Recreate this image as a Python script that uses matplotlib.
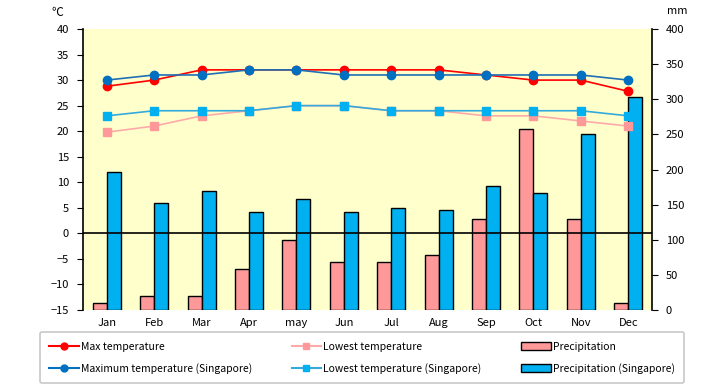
import matplotlib
matplotlib.use("Agg")
import matplotlib.pyplot as plt
import numpy as np
from matplotlib.lines import Line2D
from matplotlib.patches import Patch

plt.rcParams['font.family'] = ['Noto Sans CJK JP', 'DejaVu Sans']

months = ["Jan", "Feb", "Mar", "Apr", "may", "Jun", "Jul", "Aug", "Sep", "Oct", "Nov", "Dec"]
max_temp = [28.8, 30, 32, 32, 32, 32, 32, 32, 31, 30, 30, 27.8]
low_temp = [19.8, 21, 23, 24, 25, 25, 24, 24, 23, 23, 22, 21]
max_temp_sg = [30, 31, 31, 32, 32, 31, 31, 31, 31, 31, 31, 30]
low_temp_sg = [23, 24, 24, 24, 25, 25, 24, 24, 24, 24, 24, 23]
precip = [10, 20, 20, 59, 99, 69, 69, 79, 129, 258, 129, 10]
precip_sg = [197, 153, 170, 140, 158, 139, 145, 142, 176, 166, 251, 303]

fig = plt.figure(figsize=(7.2, 3.85), dpi=100)
ax = fig.add_axes([83/720, 1-310/385, (652-83)/720, (310-29)/385])
ax.set_facecolor('#FFFFCC')
x = np.arange(len(months))
w = 0.295
ax.bar(x - w/2, precip, w, color='#FF9999', edgecolor='black', linewidth=1, zorder=2)
ax.bar(x + w/2, precip_sg, w, color='#00B0F0', edgecolor='black', linewidth=1, zorder=2)
ax.set_ylim(0, 400)
ax.set_xlim(-0.5, 11.5)
ax.set_xticks(x)
ax.set_xticklabels(months)
ax.tick_params(axis='x', length=0, pad=6, labelsize=8)

ax2 = ax.twinx()
# precipitation axis on the right (host), temperature axis on the left (twin)
ax.yaxis.tick_right()
ax.yaxis.set_label_position('right')
ax2.yaxis.tick_left()
ax2.yaxis.set_label_position('left')

ax.set_yticks(range(0, 401, 50))
ax.tick_params(axis='y', direction='out', length=4, labelsize=8, pad=6)
for s in ['top', 'bottom', 'left', 'right']:
    ax.spines[s].set_visible(False)

ax2.set_ylim(-15, 40)
ax2.set_yticks(range(-15, 41, 5))
ax2.tick_params(axis='y', direction='out', length=4, labelsize=8, pad=6)
for s in ['top', 'bottom']:
    ax2.spines[s].set_visible(False)
ax2.spines['left'].set_linewidth(1.2)
ax2.spines['right'].set_linewidth(1.2)
ax2.axhline(0, color='black', linewidth=1.2, zorder=1)
ax2.plot(x, low_temp, color='#FFAAAA', marker='s', markersize=6, markerfacecolor='#FF9999',
         markeredgecolor='#FF9999', linewidth=1.2, zorder=3)
ax2.plot(x, low_temp_sg, color='#33AADD', marker='s', markersize=6, markerfacecolor='#00B0F0',
         markeredgecolor='#00B0F0', linewidth=1.2, zorder=4)
ax2.plot(x, max_temp, color='#FF0000', marker='o', markersize=6, markerfacecolor='#FF0000',
         markeredgecolor='#FF0000', linewidth=1.2, zorder=5)
ax2.plot(x, max_temp_sg, color='#1F6FB4', marker='o', markersize=6, markerfacecolor='#0070C0',
         markeredgecolor='#0070C0', linewidth=1.2, zorder=6)

fig.text(57/720, 1-12/385, '℃', fontsize=8.5, ha='center', va='center')
fig.text(677/720, 1-11/385, 'mm', fontsize=8, ha='center', va='center')

handles = [
    Line2D([], [], color='#FF0000', marker='o', markersize=5),
    Line2D([], [], color='#0070C0', marker='o', markersize=5),
    Line2D([], [], color='#FFAAAA', marker='s', markersize=5, markerfacecolor='#FF9999', markeredgecolor='#FF9999'),
    Line2D([], [], color='#33AADD', marker='s', markersize=5, markerfacecolor='#00B0F0', markeredgecolor='#00B0F0'),
    Patch(facecolor='#FF9999', edgecolor='black', linewidth=1),
    Patch(facecolor='#00B0F0', edgecolor='black', linewidth=1),
]
labels = ['Max temperature', 'Maximum temperature (Singapore)',
          'Lowest temperature', 'Lowest temperature (Singapore)',
          'Precipitation', 'Precipitation (Singapore)']
leg = fig.legend(handles, labels, ncol=3, loc='lower left',
                 bbox_to_anchor=(40/720, 1-383/385, 644/720, 50/385), mode='expand',
                 fontsize=7.5, frameon=True, fancybox=True, edgecolor='#BBBBBB',
                 handlelength=2.8, handletextpad=0.2, columnspacing=2.5, labelspacing=1.05,
                 borderpad=0.9, borderaxespad=0)
leg.get_frame().set_linewidth(1.2)

fig.savefig('out.png', dpi=100)
